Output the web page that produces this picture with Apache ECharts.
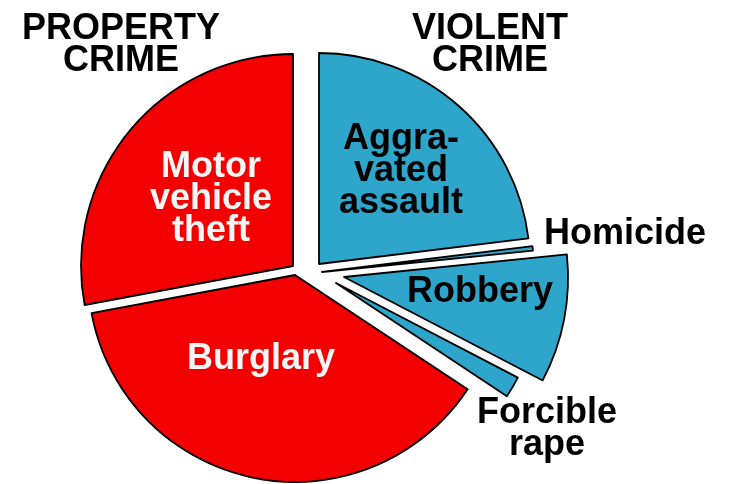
<!DOCTYPE html>
<html>
<head>
<meta charset="utf-8">
<script src="https://cdn.jsdelivr.net/npm/echarts@6/dist/echarts.min.js"></script>
<style>
html,body{margin:0;padding:0;background:#fff;}
#chart{width:730px;height:484px;}
</style>
</head>
<body>
<div id="chart"></div>
<script>
// ---- data ----
const categories = ['Aggravated assault', 'Homicide', 'Robbery', 'Forcible rape', 'Burglary', 'Motor vehicle theft'];
const values = [83, 1.2, 33.3, 6, 135.9, 100.6];
const groups = ['VIOLENT', 'VIOLENT', 'VIOLENT', 'VIOLENT', 'PROPERTY', 'PROPERTY'];
const sliceLabels = ['Aggra-\nvated\nassault', 'Homicide', 'Robbery', 'Forcible\nrape', 'Burglary', 'Motor\nvehicle\ntheft'];
const groupTitles = ['PROPERTY\nCRIME', 'VIOLENT\nCRIME'];

// ---- layout / style ----
const colors = { VIOLENT: '#2ea6cb', PROPERTY: '#f40000' };
const labelColors = { VIOLENT: '#000000', PROPERTY: '#f6f6f6' };
const sliceCenters = [[319, 264], [322, 272], [344, 277], [336, 283], [295, 275], [293, 266]];
const sliceRadii = [211, 212, 224, 205, 207, 212];
const labelPos = [[401, 171], [625, 234], [480, 292], [547, 429], [261, 359], [211, 199]];
const titlePos = [[121, 45], [490, 45]];
const FONT = 'bold 36px "Liberation Sans", Arial, sans-serif';

const chart = echarts.init(document.getElementById('chart'), null, { renderer: 'canvas' });

const series = categories.map((name, i) => ({
  type: 'pie',
  center: sliceCenters[i],
  radius: [0, sliceRadii[i]],
  startAngle: 90,
  clockwise: true,
  animation: false,
  silent: true,
  avoidLabelOverlap: false,
  label: { show: false },
  labelLine: { show: false },
  emphasis: { disabled: true },
  data: categories.map((n, j) => ({
    name: n,
    value: values[j],
    itemStyle: j === i
      ? { color: colors[groups[j]], borderColor: '#000', borderWidth: 1.8 }
      : { color: 'rgba(0,0,0,0)', borderWidth: 0 }
  }))
}));

const graphics = [];
sliceLabels.forEach((t, i) => {
  graphics.push({
    type: 'text', silent: true, z: 100,
    style: {
      text: t, x: labelPos[i][0], y: labelPos[i][1],
      font: FONT, fill: labelColors[groups[i]],
      align: 'center', verticalAlign: 'middle', lineHeight: 32
    }
  });
});
groupTitles.forEach((t, i) => {
  graphics.push({
    type: 'text', silent: true, z: 100,
    style: {
      text: t, x: titlePos[i][0], y: titlePos[i][1],
      font: FONT, fill: '#000',
      align: 'center', verticalAlign: 'middle', lineHeight: 32
    }
  });
});

chart.setOption({
  backgroundColor: '#ffffff',
  animation: false,
  series: series,
  graphic: graphics
});
</script>
</body>
</html>
